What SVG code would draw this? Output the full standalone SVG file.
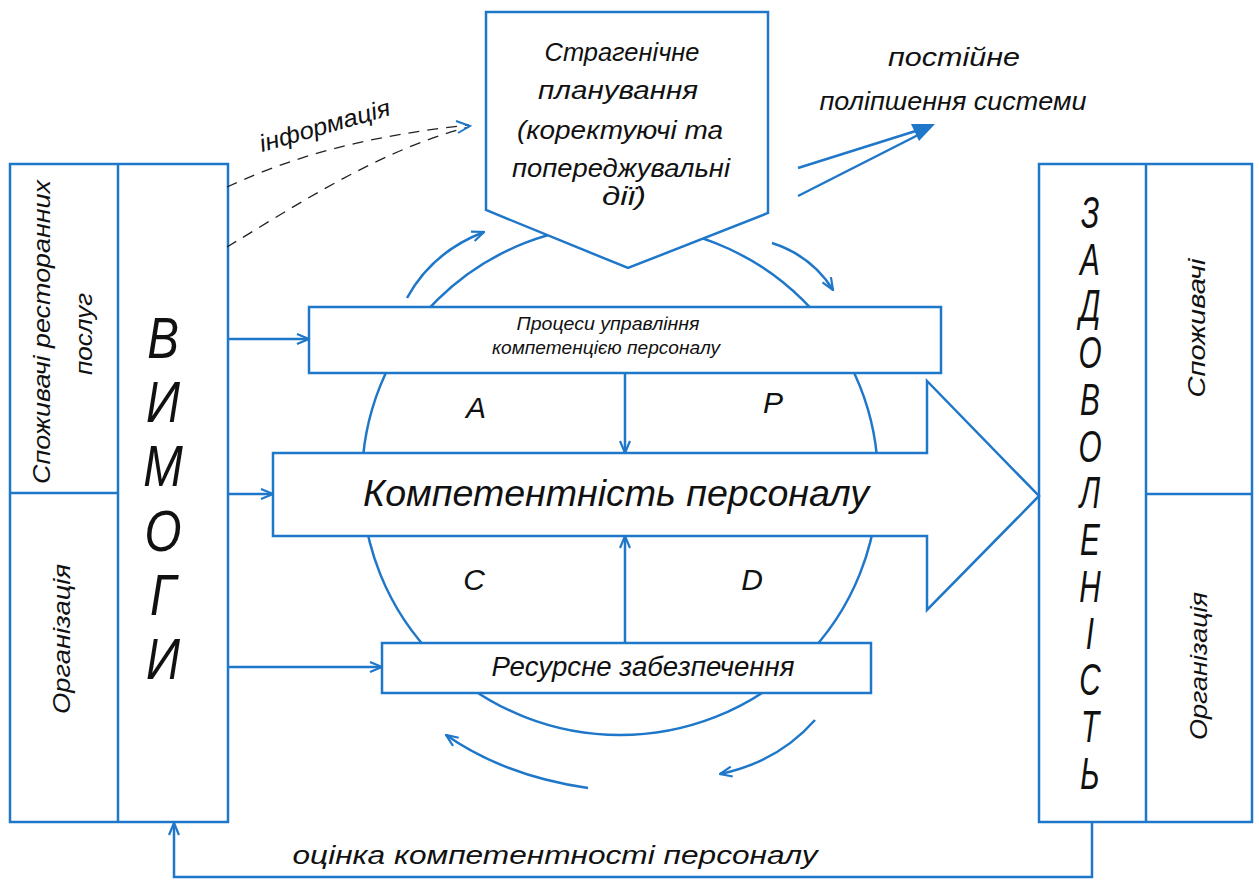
<svg xmlns="http://www.w3.org/2000/svg" width="1259" height="882" viewBox="0 0 1259 882">
<style>
.b{fill:none;stroke:#1f77c9;stroke-width:2.5}
.w{fill:#fff;stroke:#1f77c9;stroke-width:2.5}
.t{font-family:"Liberation Sans",Arial,sans-serif;font-style:italic;fill:#111}
.m{text-anchor:middle}
.d{fill:none;stroke:#222;stroke-width:1.3;stroke-dasharray:11 8}
</style>
<defs>
<marker id="arr" markerUnits="userSpaceOnUse" viewBox="0 0 14 12" refX="13" refY="6" markerWidth="14" markerHeight="12" orient="auto">
<path d="M1,1 L13,6 L1,11" fill="none" stroke="#1f77c9" stroke-width="2.2"/>
</marker>
</defs>
<rect width="1259" height="882" fill="#fff"/>

<g id="pdca-cycle">
<ellipse cx="620" cy="480" rx="258" ry="255" class="b" stroke-width="2"/>
</g>

<g id="node-vymohy">
<rect x="10" y="164" width="218" height="658" class="w"/>
<line x1="118" y1="164" x2="118" y2="822" class="b"/>
<line x1="10" y1="493" x2="118" y2="493" class="b"/>
<text class="t m" font-size="24" transform="rotate(-90 50 332)" x="50" y="332" textLength="304" lengthAdjust="spacingAndGlyphs">Споживачі ресторанних</text>
<text class="t m" font-size="24" transform="rotate(-90 92 334)" x="92" y="334" textLength="82" lengthAdjust="spacingAndGlyphs">послуг</text>
<text class="t m" font-size="24" transform="rotate(-90 70 639)" x="70" y="639" textLength="150" lengthAdjust="spacingAndGlyphs">Організація</text>
<g transform="translate(163 0) scale(0.82 1)">
<text class="t m" font-size="58"><tspan x="0" y="358">В</tspan><tspan x="0" y="422">И</tspan><tspan x="0" y="486">М</tspan><tspan x="0" y="551">О</tspan><tspan x="0" y="615">Г</tspan><tspan x="0" y="679">И</tspan></text>
</g>
</g>

<g id="node-zadovolenist">
<rect x="1039" y="164" width="213" height="658" class="w"/>
<line x1="1146" y1="164" x2="1146" y2="822" class="b"/>
<line x1="1146" y1="494" x2="1252" y2="494" class="b"/>
<text class="t m" font-size="24" transform="rotate(-90 1205 328)" x="1205" y="328" textLength="139" lengthAdjust="spacingAndGlyphs">Споживачі</text>
<text class="t m" font-size="24" transform="rotate(-90 1207 666)" x="1207" y="666" textLength="148" lengthAdjust="spacingAndGlyphs">Організація</text>
<g transform="translate(1090 0) scale(0.66 1)">
<text class="t m" font-size="45"><tspan x="0" y="228">З</tspan><tspan x="0" y="274.8">А</tspan><tspan x="0" y="321.5">Д</tspan><tspan x="0" y="368.3">О</tspan><tspan x="0" y="415">В</tspan><tspan x="0" y="461.8">О</tspan><tspan x="0" y="508.5">Л</tspan><tspan x="0" y="555.3">Е</tspan><tspan x="0" y="602">Н</tspan><tspan x="0" y="648.8">І</tspan><tspan x="0" y="695.5">С</tspan><tspan x="0" y="742.3">Т</tspan><tspan x="0" y="789">Ь</tspan></text>
</g>
</g>

<g id="node-strategic">
<polygon points="486,12 768,12 768,213 628,268 486,210" class="w"/>
<text class="t m" font-size="26" x="622" y="61" textLength="155" lengthAdjust="spacingAndGlyphs">Страгенічне</text>
<text class="t m" font-size="26" x="618" y="99" textLength="160" lengthAdjust="spacingAndGlyphs">планування</text>
<text class="t m" font-size="26" x="620" y="139" textLength="206" lengthAdjust="spacingAndGlyphs">(коректуючі та</text>
<text class="t m" font-size="26" x="621" y="177" textLength="218" lengthAdjust="spacingAndGlyphs">попереджувальні</text>
<text class="t m" font-size="26" x="624" y="205" textLength="44" lengthAdjust="spacingAndGlyphs">дії)</text>
</g>

<g id="node-processes">
<rect x="309" y="307" width="632" height="66" class="w"/>
<text class="t m" font-size="19" x="608" y="330" textLength="183" lengthAdjust="spacingAndGlyphs">Процеси управління</text>
<text class="t m" font-size="19" x="606" y="354" textLength="228" lengthAdjust="spacingAndGlyphs">компетенцією персоналу</text>
</g>

<g id="node-competence">
<polygon points="273,453 927,453 927,381 1039,496 927,610 927,536 273,536" class="w"/>
<text class="t m" font-size="36" x="616" y="506" textLength="506" lengthAdjust="spacingAndGlyphs">Компетентність персоналу</text>
</g>

<g id="node-resources">
<rect x="382" y="643" width="489" height="50" class="w"/>
<text class="t m" font-size="27" x="643" y="676" textLength="303" lengthAdjust="spacingAndGlyphs">Ресурсне забезпечення</text>
</g>

<g id="pdca-labels">
<text class="t m" font-size="30" x="476" y="418">A</text>
<text class="t m" font-size="30" x="773" y="413">P</text>
<text class="t m" font-size="30" x="474" y="590">C</text>
<text class="t m" font-size="30" x="752" y="590">D</text>
</g>

<g id="connectors">
<line x1="228" y1="339" x2="309" y2="339" class="b" marker-end="url(#arr)"/>
<line x1="228" y1="494" x2="273" y2="494" class="b" marker-end="url(#arr)"/>
<line x1="228" y1="667" x2="382" y2="667" class="b" marker-end="url(#arr)"/>
<line x1="625" y1="373" x2="625" y2="453" class="b" marker-end="url(#arr)"/>
<line x1="625" y1="643" x2="625" y2="536" class="b" marker-end="url(#arr)"/>
<path d="M407,298 Q432,252 484,232" class="b" marker-end="url(#arr)"/>
<path d="M772,243 Q812,256 833,290" class="b" marker-end="url(#arr)"/>
<path d="M815,720 Q778,762 720,774" class="b" marker-end="url(#arr)"/>
<path d="M588,788 Q505,776 446,735" class="b" marker-end="url(#arr)"/>
<path d="M1092,822 V877 H174 V823" class="b" marker-end="url(#arr)"/>
<path d="M227,187 C275,165 345,138 469,125" class="d"/>
<path d="M227,247 C300,203 380,150 469,127" class="d"/>
<path d="M456,121 L470,126 L458,133" fill="none" stroke="#1f77c9" stroke-width="2"/>
<line x1="798" y1="168" x2="922" y2="129" class="b" stroke-width="3"/>
<line x1="798" y1="196" x2="924" y2="132" class="b" stroke-width="3"/>
<polygon points="935,124 911,124 919,141" fill="#1f77c9"/>
<text class="t" font-size="24" x="262" y="152" transform="rotate(-16 262 152)" textLength="135" lengthAdjust="spacingAndGlyphs">інформація</text>
<text class="t m" font-size="25" x="954" y="66" textLength="132" lengthAdjust="spacingAndGlyphs">постійне</text>
<text class="t m" font-size="25" x="953" y="110" textLength="267" lengthAdjust="spacingAndGlyphs">поліпшення системи</text>
<text class="t m" font-size="25" x="555" y="864" textLength="525" lengthAdjust="spacingAndGlyphs">оцінка компетентності персоналу</text>
</g>
</svg>
